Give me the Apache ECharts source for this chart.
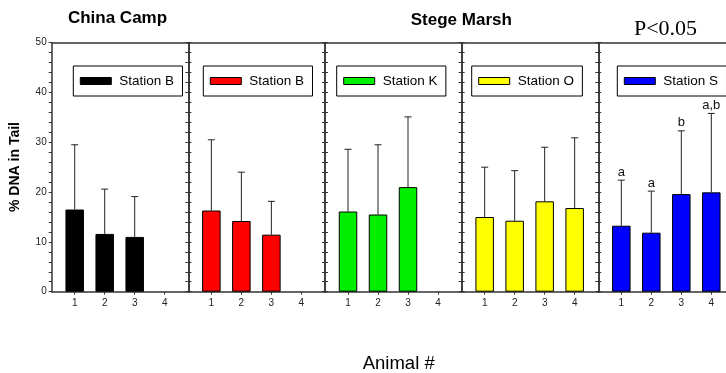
<!DOCTYPE html>
<html>
<head>
<meta charset="utf-8">
<script src="https://cdn.jsdelivr.net/npm/echarts@6/dist/echarts.min.js"></script>
<style>html,body{margin:0;padding:0;background:#fff}#c{width:726px;height:373px}</style>
</head>
<body>
<div id="c"></div>
<script>
// ---- data ----
const animals = [1, 2, 3, 4];
const stationLabels = ['Station B', 'Station B', 'Station K', 'Station O', 'Station S'];
const seriesNames = ['China Camp Station B', 'Stege Marsh Station B', 'Stege Marsh Station K', 'Stege Marsh Station O', 'Stege Marsh Station S'];
const chinaCampB = [16.5, 11.6, 11.0];
const stegeB = [16.3, 14.2, 11.45];
const stegeK = [16.1, 15.5, 21.0];
const stegeO = [15.0, 14.25, 18.15, 16.8];
const stegeS = [13.25, 11.85, 19.6, 19.95];
// upper end of error bars
const chinaCampBErr = [29.5, 20.6, 19.1];
const stegeBErr = [30.5, 24.0, 18.15];
const stegeKErr = [28.6, 29.5, 35.1];
const stegeOErr = [25.0, 24.3, 29.0, 30.9];
const stegeSErr = [22.4, 20.2, 32.3, 35.8];
const stegeSLetters = ['a', 'a', 'b', 'a,b'];
const yTicks = [0, 10, 20, 30, 40, 50];

const means = [chinaCampB, stegeB, stegeK, stegeO, stegeS];
const errs = [chinaCampBErr, stegeBErr, stegeKErr, stegeOErr, stegeSErr];
const letters = [[], [], [], [], stegeSLetters];
const colors = ['#000000', '#ff0000', '#00ee00', '#ffff00', '#0000ff'];

// ---- layout ----
const FONT = '"Liberation Sans", Arial, sans-serif';
const AX = '#333';
const panelLeft0 = 51.7, panelW = 136.65, gridTop = 42.7, gridH = 249;
const legendLefts = [73.3, 203.3, 336.7, 471.7, 617.3];
const xMin = 0.233;

const grids = [], xAxes = [], yAxes = [], seriesList = [], legends = [];
for (let i = 0; i < 5; i++) {
  const left = panelLeft0 + panelW * i;
  const w = Math.min(panelW, 726 - left);
  const xMax = xMin + w / 30;
  grids.push({left: left, top: gridTop, width: w, height: gridH, show: false});
  xAxes.push({type: 'value', gridIndex: i, position: 'bottom', min: xMin, max: xMax,
    axisLine: {show: true, onZero: false, lineStyle: {color: AX, width: 1.5}},
    axisTick: {show: true, customValues: animals, length: 3, lineStyle: {color: AX}},
    axisLabel: {show: true, customValues: animals, fontSize: 10, color: '#222', fontFamily: FONT, margin: 7},
    splitLine: {show: false}});
  xAxes.push({type: 'value', gridIndex: i, position: 'top', min: xMin, max: xMax,
    axisLine: {show: true, onZero: false, lineStyle: {color: AX, width: 1.5}},
    axisTick: {show: false}, axisLabel: {show: false}, splitLine: {show: false}});
  const xi = xAxes.length - 2;
  const yBase = {type: 'value', gridIndex: i, position: 'left', min: yTicks[0], max: yTicks[yTicks.length - 1], interval: 10,
    axisLine: {show: true, lineStyle: {color: AX, width: 1.5}},
    splitLine: {show: false},
    minorTick: {show: true, splitNumber: 5, length: 3, lineStyle: {color: AX}},
    axisTick: {show: true, length: 3, lineStyle: {color: AX}}};
  yAxes.push(Object.assign({}, yBase, {
    axisLabel: {show: i === 0, fontSize: 10, color: '#222', fontFamily: FONT, margin: 5}
  }));
  const yi = yAxes.length - 1;
  if (i > 0) {
    yAxes.push(Object.assign({}, yBase, {
      axisLabel: {show: false},
      axisTick: {show: true, inside: true, length: 3, lineStyle: {color: AX}},
      minorTick: {show: true, splitNumber: 5, length: 3, lineStyle: {color: AX}}
    }));
  }
  seriesList.push({type: 'bar', name: seriesNames[i], xAxisIndex: xi, yAxisIndex: yi,
    barWidth: 18.5, z: 3,
    itemStyle: {color: colors[i], borderColor: '#000', borderWidth: 1},
    data: means[i].map((v, k) => [animals[k], v])});
  seriesList.push({type: 'custom', name: 'err' + i, xAxisIndex: xi, yAxisIndex: yi, z: 2,
    data: means[i].map((v, k) => [animals[k], v, errs[i][k]]),
    renderItem: function (params, api) {
      const base = api.coord([api.value(0), api.value(1)]);
      const tp = api.coord([api.value(0), api.value(2)]);
      const lab = letters[i][params.dataIndex] || '';
      const children = [
        {type: 'line', shape: {x1: base[0], y1: base[1], x2: tp[0], y2: tp[1]}, style: {stroke: '#222', lineWidth: 1}},
        {type: 'line', shape: {x1: tp[0] - 3.5, y1: tp[1], x2: tp[0] + 3.5, y2: tp[1]}, style: {stroke: '#222', lineWidth: 1}}
      ];
      if (lab) children.push({type: 'text', x: tp[0], y: tp[1] - 1.5,
        style: {text: lab, font: '13px ' + FONT, fill: '#111', align: 'center', verticalAlign: 'bottom'}});
      return {type: 'group', children: children};
    }});
  legends.push({show: true, left: legendLefts[i], top: 66, data: [seriesNames[i]],
    formatter: () => stationLabels[i], selectedMode: false,
    icon: 'rect', itemWidth: 31, itemHeight: 7,
    borderColor: '#000', borderWidth: 1, borderRadius: 0,
    padding: [7.5, 8.4, 7.5, 6.5],
    textStyle: {fontSize: 13.5, color: '#000', fontFamily: FONT, lineHeight: 15, padding: [0, 0, 0, 3]},
    itemStyle: {borderColor: '#000', borderWidth: 1}});
}

const chart = echarts.init(document.getElementById('c'), null, {renderer: 'canvas'});
chart.setOption({
  animation: false,
  backgroundColor: '#fff',
  grid: grids, xAxis: xAxes, yAxis: yAxes, series: seriesList, legend: legends,
  graphic: [
    {type: 'text', x: 117.5, y: 18.5, style: {text: 'China Camp', font: 'bold 17px ' + FONT, fill: '#000', align: 'center', verticalAlign: 'middle'}},
    {type: 'text', x: 461.3, y: 20, style: {text: 'Stege Marsh', font: 'bold 17px ' + FONT, fill: '#000', align: 'center', verticalAlign: 'middle'}},
    {type: 'text', x: 665.5, y: 29.5, style: {text: 'P<0.05', font: '22px "Liberation Serif", "Times New Roman", serif', fill: '#000', align: 'center', verticalAlign: 'middle'}},
    {type: 'text', x: 15.5, y: 167, rotation: Math.PI / 2, style: {text: '% DNA in Tail', font: 'bold 14px ' + FONT, fill: '#000', align: 'center', verticalAlign: 'middle'}},
    {type: 'text', x: 398.7, y: 363.5, style: {text: 'Animal #', font: '18.5px ' + FONT, fill: '#000', align: 'center', verticalAlign: 'middle'}}
  ]
});
</script>
</body>
</html>
